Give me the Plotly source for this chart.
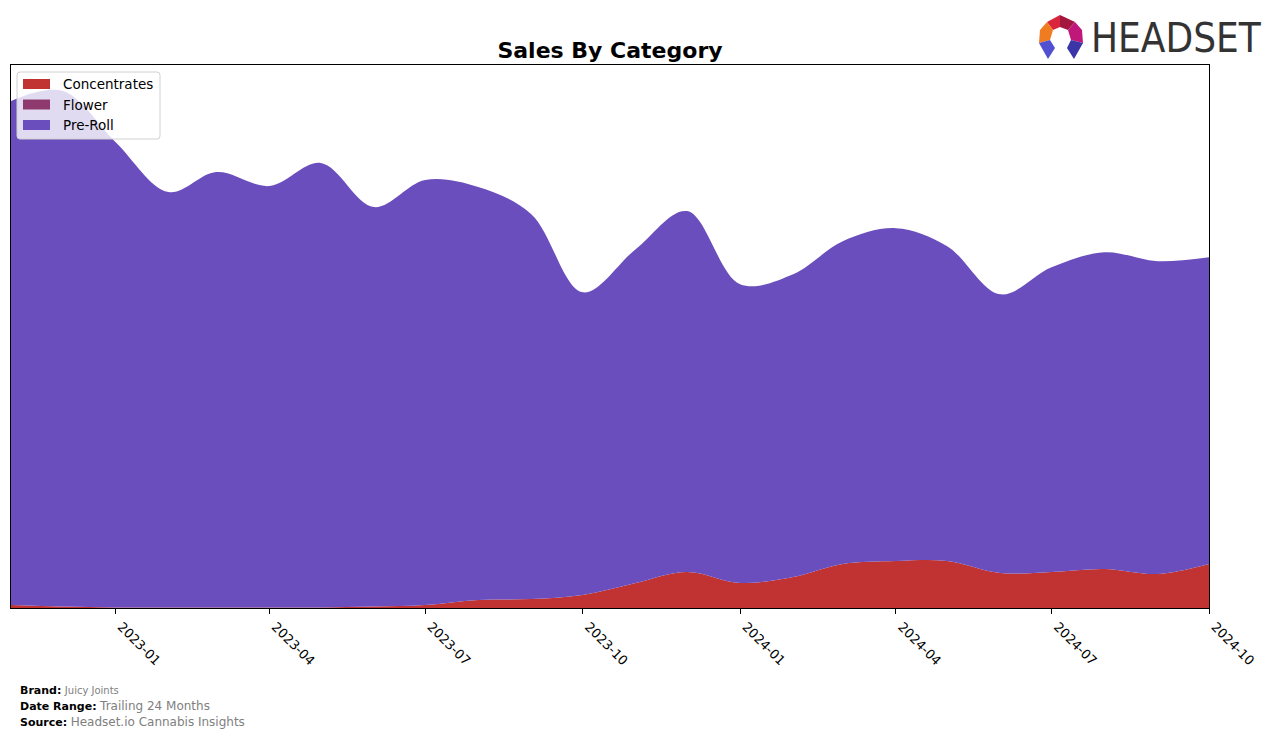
import plotly.graph_objects as go

months = ["2022-11-01", "2022-12-01", "2023-01-01", "2023-02-01", "2023-03-01", "2023-04-01",
          "2023-05-01", "2023-06-01", "2023-07-01", "2023-08-01", "2023-09-01", "2023-10-01",
          "2023-11-01", "2023-12-01", "2024-01-01", "2024-02-01", "2024-03-01", "2024-04-01",
          "2024-05-01", "2024-06-01", "2024-07-01", "2024-08-01", "2024-09-01", "2024-10-01"]

concentrates = [3, 1.5, 0.5, 0.5, 0.5, 0.5, 0.5, 1.5, 3, 8, 9, 13,
                25, 36, 25, 31, 44, 47, 47, 35, 36, 39, 34, 44]
flower = [0] * 24
total = [506, 516, 465, 415, 435, 421, 444, 400, 427, 420, 393, 315,
         358, 396, 323, 333, 366, 379, 361, 313, 340, 355, 346, 350]
preroll = [t - c - f for t, c, f in zip(total, concentrates, flower)]

categories = ["Concentrates", "Flower", "Pre-Roll"]
colors = ["#c13232", "#8e3a6e", "#6a4ebd"]

tick_vals = ["2023-01-01", "2023-04-01", "2023-07-01", "2023-10-01",
             "2024-01-01", "2024-04-01", "2024-07-01", "2024-10-01"]
tick_text = ["2023-01", "2023-04", "2023-07", "2023-10",
             "2024-01", "2024-04", "2024-07", "2024-10"]

W, H = 1276, 738
L, R, T, B = 11, 1209, 65, 608


def px(x):
    return (x - L) / (R - L)


def py(y):
    return (B - y) / (B - T)


fig = go.Figure()
for name, vals, col in zip(categories, [concentrates, flower, preroll], colors):
    fig.add_trace(go.Scatter(
        x=months, y=vals, name=name, stackgroup="one", mode="none",
        line=dict(width=0, shape="spline", smoothing=1.0, color=col),
        fillcolor=col, showlegend=False))

ymax = max(total) * 1.05

fig.update_layout(
    width=W, height=H,
    margin=dict(l=L, r=W - R, t=T, b=H - B),
    paper_bgcolor="white", plot_bgcolor="white",
    font=dict(family="DejaVu Sans", color="black"),
    title=dict(text="<b>Sales By Category</b>", x=px(610), xref="paper", xanchor="center",
               y=1 - 50 / H, yanchor="middle", font=dict(size=22, family="DejaVu Sans")),
    showlegend=False,
    xaxis=dict(range=["2022-11-01", "2024-10-01"], tickvals=tick_vals, ticktext=tick_text,
               tickangle=45, ticks="outside", ticklen=5, tickcolor="black",
               ticklabelshift=6,
               showgrid=False, zeroline=False, showline=True, linecolor="black", linewidth=1,
               mirror=True, tickfont=dict(size=13, color="black")),
    yaxis=dict(range=[0, ymax], showticklabels=False, ticks="", showgrid=False, zeroline=False,
               showline=True, linecolor="black", linewidth=1, mirror=True),
)

# manual legend (matplotlib style)
x0, x1, y0, y1, r = 17, 160, 72, 139, 3
box = (f"M {px(x0 + r)},{py(y0)} L {px(x1 - r)},{py(y0)} Q {px(x1)},{py(y0)} {px(x1)},{py(y0 + r)} "
       f"L {px(x1)},{py(y1 - r)} Q {px(x1)},{py(y1)} {px(x1 - r)},{py(y1)} "
       f"L {px(x0 + r)},{py(y1)} Q {px(x0)},{py(y1)} {px(x0)},{py(y1 - r)} "
       f"L {px(x0)},{py(y0 + r)} Q {px(x0)},{py(y0)} {px(x0 + r)},{py(y0)} Z")
fig.add_shape(type="path", path=box, xref="paper", yref="paper",
              fillcolor="rgba(255,255,255,0.8)", line=dict(color="#d0d0d0", width=1), layer="above")
for i, (name, col) in enumerate(zip(categories, colors)):
    cy = 84 + i * 20.5
    fig.add_shape(type="rect", x0=px(23), x1=px(50), y0=py(cy + 5), y1=py(cy - 5),
                  xref="paper", yref="paper", fillcolor=col, line=dict(width=0), layer="above")
    fig.add_annotation(text=name, x=px(61), y=py(cy), xref="paper", yref="paper",
                       xanchor="left", yanchor="middle", showarrow=False,
                       font=dict(size=13.5, family="DejaVu Sans", color="black"))

# footer
foot = [(690, "<b>Brand:</b> <span style='color:#808080;font-size:10px'>Juicy Joints</span>"),
        (706, "<b>Date Range:</b> <span style='color:#808080;font-size:12px'>Trailing 24 Months</span>"),
        (722, "<b>Source:</b> <span style='color:#808080;font-size:12px'>Headset.io Cannabis Insights</span>")]
for y, txt in foot:
    fig.add_annotation(text=txt, x=px(18), y=py(y), xref="paper", yref="paper",
                       xanchor="left", yanchor="middle", showarrow=False,
                       font=dict(size=11, family="DejaVu Sans", color="black"))

# logo text
fig.add_annotation(text="HEADSET", x=px(1176), y=py(38), xref="paper", yref="paper",
                   xanchor="center", yanchor="middle", showarrow=False,
                   font=dict(size=40, family="DejaVu Sans Condensed", color="#333333"))

# logo icon
polys = [
    ([(1047, 22), (1060, 15), (1060, 27), (1053, 30)], "#d9263b"),
    ([(1060, 15), (1075, 22), (1068, 30), (1060, 27)], "#a3173f"),
    ([(1047, 22), (1053, 30), (1050, 40), (1039, 43), (1040, 30)], "#f07c22"),
    ([(1075, 22), (1082, 30), (1083, 43), (1071, 40), (1068, 30)], "#c0187a"),
    ([(1039, 43), (1050, 40), (1055, 48), (1048, 59)], "#5050d0"),
    ([(1071, 40), (1083, 43), (1074, 59), (1067, 48)], "#3b35a8"),
]
for pts, col in polys:
    path = "M " + " L ".join(f"{px(x):.5f},{py(y):.5f}" for x, y in pts) + " Z"
    fig.add_shape(type="path", path=path, xref="paper", yref="paper",
                  fillcolor=col, line=dict(width=0), layer="above")

fig.write_html("out.html")
